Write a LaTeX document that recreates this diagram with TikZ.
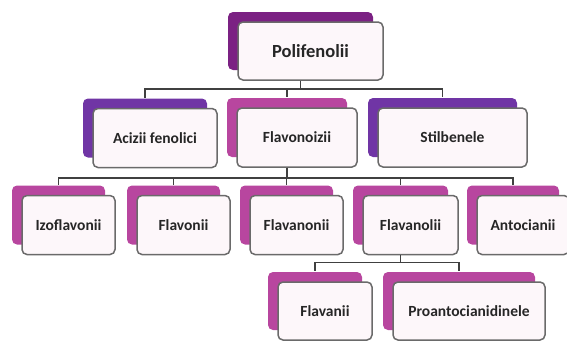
\documentclass[tikz,border=0pt]{standalone}
\usepackage{fontspec}
\setmainfont{Carlito}
\usepackage{tikz}
\usetikzlibrary{shadows}

\definecolor{polviolet}{HTML}{7B2183}
\definecolor{aciviolet}{HTML}{7035A5}
\definecolor{pinkmag}{HTML}{B8469F}
\definecolor{boxfill}{HTML}{FDF7FA}
\definecolor{framegray}{HTML}{6A6A6A}
\definecolor{linegray}{HTML}{404040}
\definecolor{textgray}{HTML}{262626}

\begin{document}
\begin{tikzpicture}[
        x=1pt, y=-1pt,
        box/.style={draw=framegray, line width=1.5pt, rounded corners=5pt,
            fill=boxfill, text=textgray, inner sep=0pt,
            minimum height=59pt, font=\fontsize{15.5}{18}\selectfont\bfseries},
        back/.style={copy shadow={shadow xshift=-10pt, shadow yshift=10pt,
            fill=#1, draw=none}},
        link/.style={draw=linegray, line width=1.5pt}
    ]
        \useasboundingbox (0,0) rectangle (567,340);

        % Nivelul 1
        \node[box, back=polviolet, minimum width=145pt, minimum height=58pt,
            font=\fontsize{18.5}{22}\selectfont\bfseries] (pol) at (310.5,51) {Polifenolii};

        % Nivelul 2
        \node[box, back=aciviolet, minimum width=124pt] (aci) at (155,138) {Acizii fenolici};
        \node[box, back=pinkmag, minimum width=120pt] (flv) at (297,137.5) {Flavonoizii};
        \node[box, back=aciviolet, minimum width=149pt] (sti) at (452.5,137.5) {Stilbenele};

        % Nivelul 3
        \node[box, back=pinkmag, minimum width=93pt] (izo) at (68.5,225) {Izoflavonii};
        \node[box, back=pinkmag, minimum width=93pt] (fln) at (183.5,225) {Flavonii};
        \node[box, back=pinkmag, minimum width=93pt] (fnn) at (296.5,225) {Flavanonii};
        \node[box, back=pinkmag, minimum width=95pt] (fnl) at (410.5,225) {Flavanolii};
        \node[box, back=pinkmag, minimum width=92pt] (ant) at (523,225) {Antocianii};

        % Nivelul 4
        \node[box, back=pinkmag, minimum width=94pt, minimum height=58pt] (fvn) at (325,311) {Flavanii};
        \node[box, back=pinkmag, minimum width=152pt, minimum height=58pt] (pro) at (469,311) {Proantocianidinele};

        % Legaturi
        \draw[link] ([xshift=-10pt]pol.south) -- ++(0,8) -| ([xshift=-10pt,yshift=10pt]aci.north);
        \draw[link] ([xshift=-10pt]pol.south) -- ++(0,8) -| ([xshift=-10pt,yshift=10pt]flv.north);
        \draw[link] ([xshift=-10pt]pol.south) -- ++(0,8) -| ([xshift=-10pt,yshift=10pt]sti.north);

        \draw[link] ([xshift=-10pt]flv.south) -- ++(0,10) -| ([xshift=-10pt,yshift=10pt]izo.north);
        \draw[link] ([xshift=-10pt]flv.south) -- ++(0,10) -| ([xshift=-10pt,yshift=10pt]fln.north);
        \draw[link] ([xshift=-10pt]flv.south) -- ++(0,10) -| ([xshift=-10pt,yshift=10pt]fnn.north);
        \draw[link] ([xshift=-10pt]flv.south) -- ++(0,10) -| ([xshift=-10pt,yshift=10pt]fnl.north);
        \draw[link] ([xshift=-10pt]flv.south) -- ++(0,10) -| ([xshift=-10pt,yshift=10pt]ant.north);

        \draw[link] ([xshift=-10pt]fnl.south) -- ++(0,7) -| ([xshift=-10pt,yshift=10pt]fvn.north);
        \draw[link] ([xshift=-10pt]fnl.south) -- ++(0,7) -| ([xshift=-10pt,yshift=10pt]pro.north);
    \end{tikzpicture}
\end{document}
